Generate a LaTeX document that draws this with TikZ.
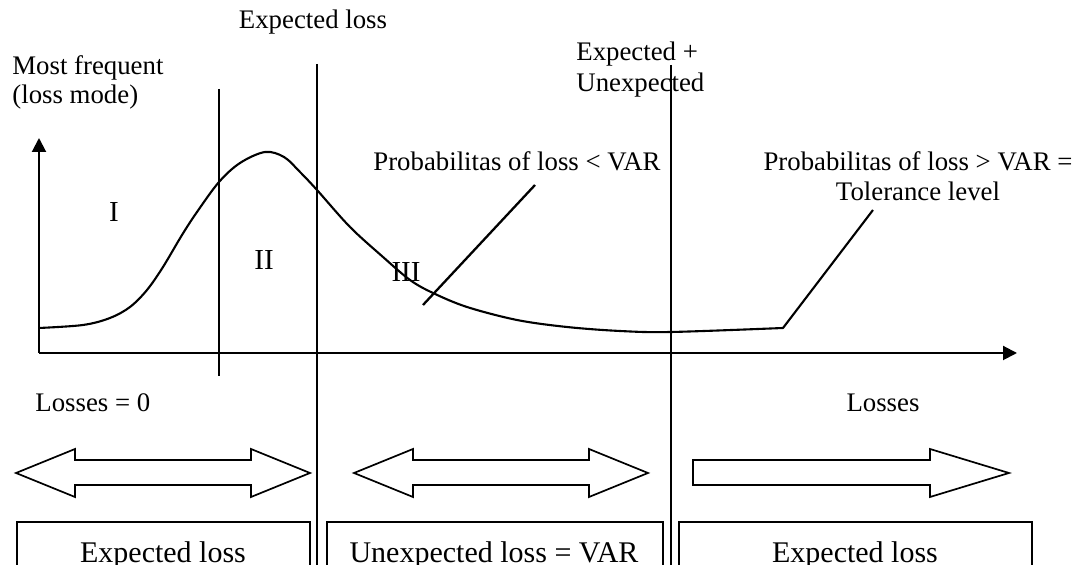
\documentclass[tikz,border=0pt]{standalone}
\usepackage{fontspec}
\setmainfont{Liberation Serif}
\usetikzlibrary{arrows.meta}
\begin{document}
\begin{tikzpicture}[x=0.5pt,y=-0.5pt,
  lbl/.style={inner sep=0pt, font=\fontsize{13.4}{15}\selectfont},
  rlbl/.style={inner sep=0pt, font=\fontsize{14.5}{16}\selectfont},
  blbl/.style={inner sep=0pt, font=\fontsize{15}{17}\selectfont},
  axis/.style={line width=1pt, -{Triangle[length=7pt,width=7pt]}},
  vline/.style={line width=0.95pt},
  curve/.style={line width=1.05pt, line join=round},
  leader/.style={line width=1.15pt},
  bigarrow/.style={line width=0.85pt, line join=miter},
  boxsty/.style={line width=0.85pt}]
\clip (0,0) rectangle (1078,565);
\fill[white] (0,0) rectangle (1078,565);
% axes
\coordinate (O) at (39,353);
\coordinate (ytip) at (39,138);
\coordinate (xtip) at (1017,353);
\draw[axis] (O) -- (ytip);
\draw[axis] (O) -- (xtip);
% vertical lines
\coordinate (v1t) at (219,89);  \coordinate (v1b) at (219,376);
\coordinate (v2t) at (317,64);  \coordinate (v2b) at (317,575);
\coordinate (v3t) at (671,65);  \coordinate (v3b) at (671,575);
\draw[vline] (v1t) -- (v1b);
\draw[vline] (v2t) -- (v2b);
\draw[vline] (v3t) -- (v3b);
% curve
\coordinate (kink) at (783,328);
\coordinate (tolend) at (873,210);
\draw[curve] plot[smooth, tension=0.55] coordinates {
 (39,328) (83,325) (110,318) (130,307) (147,290) (163,267) (182,235)
 (197,212) (219,182) (240,163) (265,152) (284,157) (300,172) (317,190)
 (350,227) (383,257) (410,280) (433,293) (467,307) (517,320) (567,327)
 (620,331) (671,332) (783,328)} -- (tolend);
% leader for < VAR
\coordinate (l1a) at (423,305);
\coordinate (l1b) at (535,185);
\draw[leader] (l1a) -- (l1b);
% region labels
\node[rlbl] (rI) at (114,212) {I};
\node[rlbl] (rII) at (264,260) {II};
\node[rlbl] (rIII) at (406,272) {III};
% top labels
\node[lbl, anchor=base] (el) at (313,29) {Expected loss};
\node[lbl, anchor=base west] (mf1) at (12,75) {Most frequent};
\node[lbl, anchor=base west] (mf2) at (12,104) {(loss mode)};
\node[lbl, anchor=base west] (eu1) at (576,61) {Expected +};
\node[lbl, anchor=base west] (eu2) at (576,92) {Unexpected};
\node[lbl, anchor=base west] (pl) at (373,171) {Probabilitas of loss < VAR};
\node[lbl, anchor=base] (pg1) at (918,171) {Probabilitas of loss > VAR =};
\node[lbl, anchor=base] (pg2) at (918,201) {Tolerance level};
% axis labels
\node[lbl, anchor=base west] (l0) at (35,412) {Losses = 0};
\node[lbl, anchor=base] (ls) at (883,412) {Losses};
% big arrows
\draw[bigarrow] (16,473) -- (75,449) -- (75,460) -- (251,460) -- (251,449) -- (310,473)
  -- (251,497) -- (251,485) -- (75,485) -- (75,497) -- cycle;
\draw[bigarrow] (354,473) -- (413,449) -- (413,460) -- (589,460) -- (589,449) -- (648,473)
  -- (589,497) -- (589,485) -- (413,485) -- (413,497) -- cycle;
\draw[bigarrow] (693,460) -- (930,460) -- (930,449) -- (1009,473) -- (930,497) -- (930,485)
  -- (693,485) -- cycle;
% bottom boxes
\draw[boxsty] (17,600) -- (17,522) -- (310,522) -- (310,600);
\draw[boxsty] (327,600) -- (327,522) -- (663,522) -- (663,600);
\draw[boxsty] (679,600) -- (679,522) -- (1032,522) -- (1032,600);
\node[blbl, anchor=base] (b1) at (163,563) {Expected loss};
\node[blbl, anchor=base] (b2) at (494,563) {Unexpected loss = VAR};
\node[blbl, anchor=base] (b3) at (855,563) {Expected loss};
\end{tikzpicture}
\end{document}
